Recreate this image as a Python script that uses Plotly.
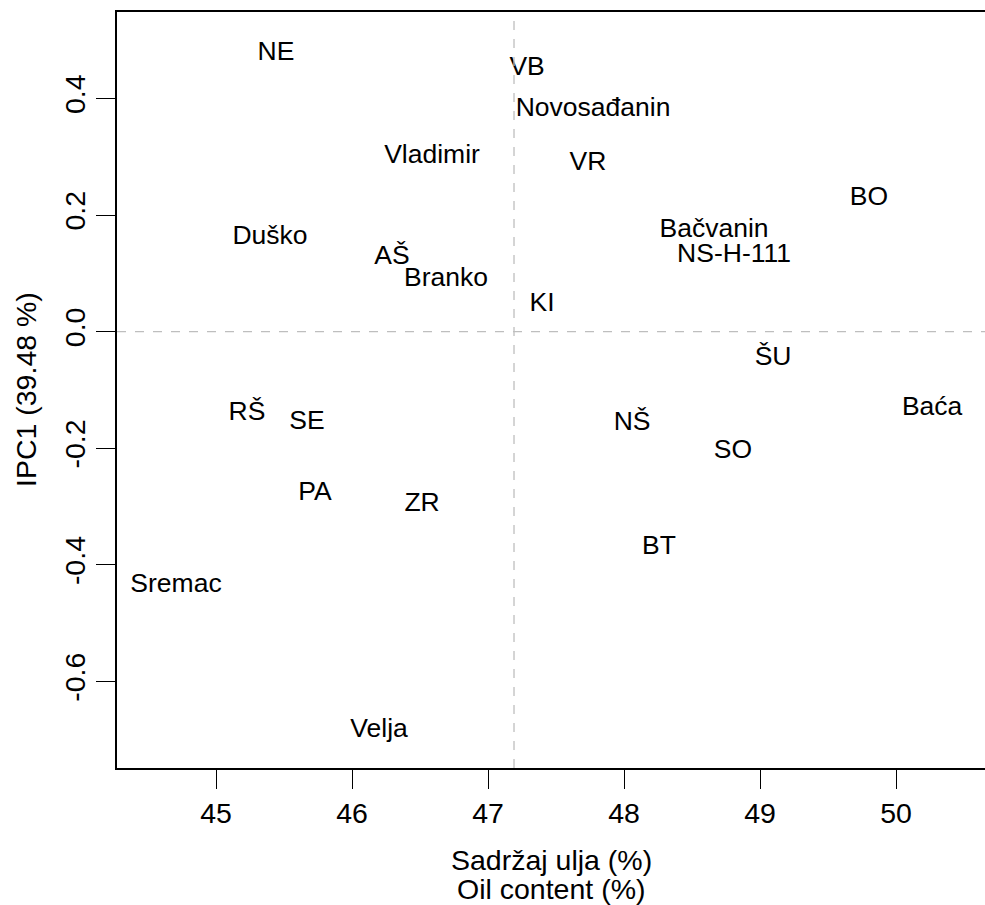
import plotly.graph_objects as go

# Data
genotypes = ["NE", "VB", "Novosađanin", "Vladimir", "VR", "BO", "Bačvanin", "NS-H-111",
             "Duško", "AŠ", "Branko", "KI", "ŠU", "Baća", "RŠ", "SE", "NŠ", "SO",
             "PA", "ZR", "BT", "Sremac", "Velja"]
oil_content = [45.441, 47.287, 47.772, 46.588, 47.735, 49.801, 48.662, 48.809,
               45.397, 46.294, 46.691, 47.397, 49.096, 50.265, 45.228, 45.669, 48.059, 48.801,
               45.728, 46.515, 48.257, 44.706, 46.199]
ipc1 = [0.478, 0.451, 0.382, 0.300, 0.288, 0.229, 0.173, 0.130,
        0.161, 0.127, 0.090, 0.047, -0.045, -0.131, -0.141, -0.155, -0.157, -0.206,
        -0.277, -0.297, -0.370, -0.435, -0.684]
mean_oil = 47.191
x_ticks = [45, 46, 47, 48, 49, 50]
y_ticks = [-0.6, -0.4, -0.2, 0.0, 0.2, 0.4]
y_tick_text = ["-0.6", "-0.4", "-0.2", "0.0", "0.2", "0.4"]

FONT = "Liberation Sans, Arial, Helvetica, sans-serif"
AX_SIZE = 28.5
LBL_SIZE = 26.5

fig = go.Figure()
fig.add_trace(go.Scatter(
    x=oil_content, y=ipc1, mode="text", text=genotypes,
    textposition="middle center",
    textfont=dict(family=FONT, size=LBL_SIZE, color="black"),
    hoverinfo="skip", showlegend=False, cliponaxis=False,
))

fig.add_vline(x=mean_oil, line=dict(color="#bebebe", width=1.3, dash="9px,9px"))
fig.add_hline(y=0, line=dict(color="#bebebe", width=1.3, dash="9px,9px"))

fig.update_layout(
    width=985, height=905,
    margin=dict(l=117, r=0, t=12, b=137),
    plot_bgcolor="white", paper_bgcolor="white",
    font=dict(family=FONT, size=AX_SIZE, color="black"),
    showlegend=False,
)
fig.update_xaxes(
    range=[44.272, 50.654], tickvals=x_ticks, ticktext=[str(v) for v in x_ticks],
    ticks="outside", ticklen=19, tickwidth=1.3, tickcolor="black",
    showline=True, linecolor="black", linewidth=1.6, mirror=True,
    showgrid=False, zeroline=False,
    tickfont=dict(family=FONT, size=AX_SIZE, color="black"),
)
fig.update_yaxes(
    range=[-0.7485, 0.5483], tickvals=y_ticks, ticktext=y_tick_text,
    ticks="outside", ticklen=19, tickwidth=1.3, tickcolor="black",
    showline=True, linecolor="black", linewidth=1.6, mirror=False,
    showgrid=False, zeroline=False, tickangle=-90,
    tickfont=dict(family=FONT, size=AX_SIZE, color="black"),
)

fig.add_annotation(text="Sadržaj ulja (%)", xref="paper", yref="paper", x=0.5, y=0,
                   yshift=-92, xanchor="center", yanchor="middle", showarrow=False,
                   font=dict(family=FONT, size=AX_SIZE, color="black"))
fig.add_annotation(text="Oil content (%)", xref="paper", yref="paper", x=0.5, y=0,
                   yshift=-121, xanchor="center", yanchor="middle", showarrow=False,
                   font=dict(family=FONT, size=AX_SIZE, color="black"))
fig.add_annotation(text="IPC1 (39.48 %)", xref="paper", yref="paper", x=0, y=0.5,
                   xshift=-91, xanchor="center", yanchor="middle", textangle=-90,
                   showarrow=False, font=dict(family=FONT, size=AX_SIZE, color="black"))

fig.write_html("out.html")
